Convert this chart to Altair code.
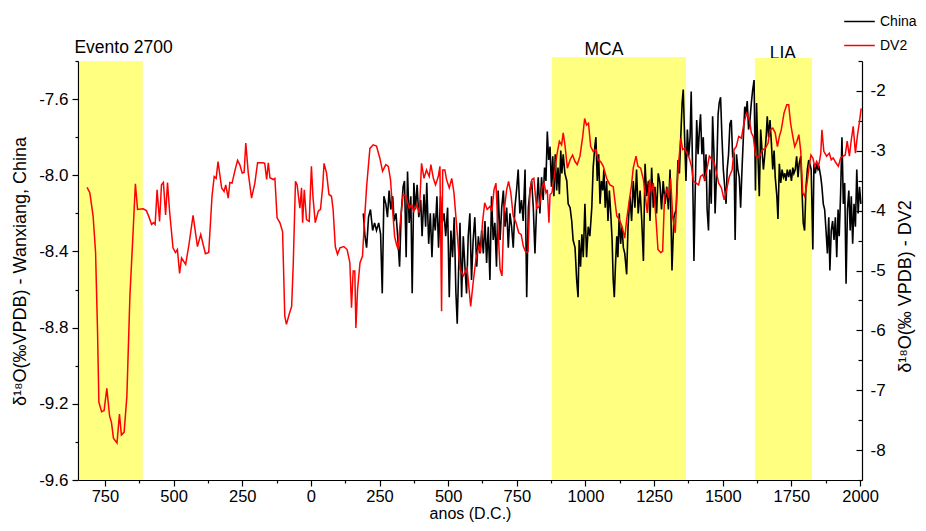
import altair as alt
import pandas as pd

# ---------------- data ----------------
red_year = [-815, -805, -793, -784, -777, -772, -762, -753, -743, -733, -726, -719, -706, -697, -690, -680,
            -670, -659, -647, -639, -631, -611, -599, -590, -580, -573, -567, -560, -551, -544, -537, -529,
            -522, -514, -502, -493, -486, -478, -471, -456, -444, -429, -413, -401, -384, -372, -360, -352,
            -345, -338, -325, -316, -310, -301, -295, -287, -277, -267, -259, -250, -243, -237, -228, -216,
            -204, -194, -174, -168, -161, -155, -149, -137, -131, -123, -113, -103, -95, -89, -79, -70,
            -64, -56, -50, -40, -34, -30, -24, -16, -6, 2, 8, 16, 27, 35, 43, 48,
            57, 66, 75, 81, 89, 97, 106, 120, 132, 142, 148, 154, 160, 164, 170, 179,
            188, 194, 203, 215, 227, 239, 251, 261, 273, 282, 290, 298, 305, 312, 318, 324,
            336, 346, 358, 367, 375, 385, 395, 403, 412, 421, 431, 437, 446, 454, 464, 470,
            476, 480, 488, 494, 504, 513, 521, 531, 543, 555, 569, 582, 591, 601, 611, 618,
            625, 633, 642, 652, 659, 667, 674, 681, 689, 696, 703, 713, 720, 728, 737, 747,
            757, 766, 774, 783, 791, 798, 805, 812, 822, 832, 842, 849, 856, 861, 867, 871,
            878, 885, 895, 905, 913, 919, 926, 934, 944, 953, 962, 970, 980, 990, 997, 1004,
            1011, 1019, 1028, 1038, 1046, 1055, 1065, 1077, 1089, 1101, 1114, 1123, 1133, 1143, 1150, 1160,
            1167, 1174, 1184, 1191, 1201, 1211, 1218, 1225, 1233, 1240, 1247, 1257, 1264, 1274, 1281, 1288,
            1296, 1303, 1310, 1318, 1327, 1337, 1347, 1354, 1361, 1369, 1378, 1386, 1393, 1403, 1412, 1419,
            1427, 1434, 1442, 1451, 1461, 1468, 1475, 1485, 1495, 1505, 1514, 1524, 1534, 1541, 1549, 1558,
            1568, 1577, 1587, 1597, 1604, 1611, 1619, 1626, 1636, 1646, 1655, 1665, 1672, 1682, 1691, 1699,
            1706, 1713, 1723, 1733, 1740, 1747, 1755, 1762, 1770, 1777, 1784, 1791, 1798, 1806, 1813, 1821,
            1828, 1835, 1842, 1849, 1857, 1861, 1868, 1878, 1888, 1895, 1902, 1912, 1921, 1929, 1939, 1946,
            1953, 1961, 1968, 1975, 1983, 1990, 1997, 2004]
red_val = [-3.61, -3.70, -4.09, -4.70, -5.98, -7.20, -7.36, -7.34, -6.97, -7.43, -7.54, -7.80, -7.88, -7.40, -7.75, -7.70,
           -7.10, -5.43, -4.32, -3.55, -3.98, -3.97, -4.00, -4.10, -4.23, -4.20, -4.23, -3.65, -4.18, -3.57, -3.53, -4.07,
           -3.53, -4.04, -4.62, -4.70, -4.65, -5.05, -4.79, -4.90, -4.57, -4.08, -4.60, -4.40, -4.72, -4.70, -3.76, -3.43,
           -3.46, -3.18, -3.62, -3.68, -3.57, -3.79, -3.53, -3.54, -3.34, -3.16, -3.23, -3.37, -3.36, -2.87, -3.37, -3.79,
           -3.54, -3.20, -3.20, -3.21, -3.48, -3.20, -3.45, -3.48, -3.46, -4.12, -4.20, -4.35, -5.76, -5.90, -5.73, -5.60,
           -4.87, -3.51, -3.57, -3.96, -3.62, -4.20, -3.65, -4.15, -4.18, -3.26, -3.79, -4.20, -4.01, -3.98, -3.60, -3.21,
           -3.37, -3.73, -3.76, -3.98, -4.60, -4.73, -4.62, -4.60, -4.65, -4.87, -5.62, -5.01, -5.01, -5.96, -5.32, -4.87,
           -4.76, -4.26, -3.60, -2.96, -2.90, -2.92, -3.12, -3.34, -3.23, -3.26, -3.48, -4.01, -4.43, -4.57, -4.65, -4.26,
           -3.73, -3.76, -3.96, -3.90, -4.01, -3.90, -4.04, -3.21, -3.46, -3.32, -3.43, -3.23, -3.46, -3.57, -3.43, -3.26,
           -5.68, -3.32, -3.32, -3.48, -3.62, -3.46, -3.70, -4.26, -4.98, -5.09, -4.96, -5.60, -5.20, -4.82, -4.60, -4.70,
           -4.20, -3.87, -3.98, -3.93, -4.01, -3.65, -3.54, -4.26, -4.98, -5.09, -4.04, -3.65, -3.51, -3.70, -4.09, -4.20,
           -4.37, -4.40, -4.60, -4.70, -4.68, -3.65, -3.48, -3.46, -3.96, -3.93, -3.60, -3.54, -3.70, -3.65, -4.20, -3.73,
           -3.70, -3.48, -3.09, -2.84, -2.90, -2.70, -2.93, -3.29, -3.15, -3.07, -3.18, -3.23, -3.09, -2.76, -2.46, -2.57,
           -2.54, -2.93, -3.01, -2.98, -3.15, -3.18, -3.26, -3.46, -3.57, -3.60, -4.09, -4.15, -4.26, -4.46, -4.15, -3.82,
           -3.60, -3.29, -3.09, -3.26, -3.29, -3.48, -3.76, -4.04, -3.48, -3.70, -3.54, -4.15, -4.65, -4.70, -4.68, -3.76,
           -3.65, -3.79, -3.46, -4.12, -4.37, -3.32, -2.79, -2.98, -2.96, -3.04, -3.12, -3.26, -3.51, -3.54, -3.57, -3.43,
           -3.40, -3.48, -3.32, -3.09, -3.15, -3.18, -3.32, -3.54, -3.62, -3.82, -3.65, -3.43, -3.32, -2.98, -2.93, -2.76,
           -2.79, -2.54, -2.37, -2.48, -2.70, -2.76, -3.07, -3.12, -3.07, -2.98, -2.96, -2.87, -2.65, -2.62, -2.70, -2.93,
           -2.76, -2.65, -2.37, -2.23, -2.23, -2.54, -2.76, -2.93, -2.84, -2.73, -3.01, -3.70, -3.76, -3.57, -3.32, -3.07,
           -3.12, -3.26, -3.18, -3.26, -3.04, -2.65, -3.01, -3.09, -3.04, -3.15, -3.12, -3.20, -3.26, -3.12, -3.09, -3.07,
           -2.84, -3.09, -2.82, -2.59, -3.04, -2.76, -2.54, -2.29]

black_year = [191, 197, 203, 210, 217, 225, 232, 239, 247, 254, 260, 266, 273, 279, 285, 291,
              298, 303, 310, 317, 323, 329, 336, 341, 347, 352, 358, 364, 369, 375, 381, 387,
              393, 400, 405, 412, 418, 422, 429, 435, 441, 447, 453, 459, 465, 472, 478, 485,
              491, 498, 504, 510, 516, 522, 528, 533, 538, 543, 549, 555, 561, 567, 573, 579,
              585, 591, 597, 604, 610, 616, 622, 628, 634, 640, 646, 652, 658, 664, 670, 676,
              682, 689, 695, 701, 707, 713, 719, 725, 731, 737, 743, 749, 755, 761, 767, 773,
              780, 786, 792, 798, 804, 810, 816, 822, 828, 834, 840, 846, 851, 856, 861, 866,
              871, 876, 881, 885, 890, 895, 900, 905, 910, 914, 919, 925, 932, 937, 944, 950,
              955, 962, 968, 973, 977, 982, 987, 992, 998, 1004, 1010, 1016, 1023, 1028, 1034, 1038,
              1043, 1048, 1053, 1058, 1063, 1067, 1072, 1077, 1082, 1087, 1092, 1097, 1101, 1105, 1109, 1114,
              1118, 1123, 1128, 1133, 1138, 1143, 1150, 1155, 1162, 1168, 1174, 1180, 1186, 1192, 1199, 1205,
              1211, 1217, 1223, 1229, 1235, 1241, 1247, 1253, 1259, 1265, 1271, 1277, 1283, 1290, 1296, 1302,
              1308, 1315, 1322, 1330, 1337, 1342, 1347, 1352, 1356, 1361, 1366, 1371, 1376, 1381, 1385, 1390,
              1395, 1400, 1405, 1410, 1415, 1419, 1424, 1429, 1434, 1439, 1443, 1448, 1453, 1458, 1463, 1468,
              1472, 1478, 1483, 1487, 1492, 1497, 1502, 1507, 1512, 1516, 1521, 1526, 1531, 1536, 1541, 1545,
              1550, 1555, 1560, 1565, 1570, 1575, 1580, 1584, 1589, 1594, 1599, 1604, 1609, 1614, 1619, 1623,
              1628, 1633, 1638, 1643, 1648, 1653, 1658, 1662, 1667, 1672, 1677, 1682, 1687, 1691, 1697, 1701,
              1706, 1711, 1716, 1721, 1726, 1730, 1735, 1740, 1745, 1750, 1755, 1759, 1764, 1769, 1774, 1778,
              1784, 1788, 1793, 1798, 1803, 1808, 1813, 1817, 1822, 1828, 1832, 1837, 1842, 1847, 1851, 1857,
              1861, 1866, 1871, 1876, 1881, 1886, 1890, 1895, 1900, 1905, 1910, 1915, 1920, 1924, 1929, 1934,
              1939, 1944, 1949, 1954, 1959, 1964, 1968, 1973, 1978, 1983, 1988, 1993, 1998, 2003]
black_val = [-8.20, -8.32, -8.38, -8.22, -8.18, -8.29, -8.25, -8.29, -8.25, -8.31, -8.62, -8.11, -8.15, -8.22, -8.08, -8.18,
             -8.11, -8.24, -8.20, -8.34, -8.48, -8.20, -8.06, -8.03, -8.43, -7.98, -8.25, -8.11, -8.62, -8.04, -8.18, -8.05,
             -8.22, -8.13, -8.32, -8.10, -8.27, -8.04, -8.36, -8.20, -8.43, -8.20, -8.29, -8.11, -8.38, -8.11, -8.25, -8.20,
             -8.32, -8.17, -8.64, -8.29, -8.43, -8.22, -8.61, -8.78, -8.50, -8.25, -8.64, -8.32, -8.48, -8.62, -8.32, -8.20,
             -8.55, -8.34, -8.22, -8.48, -8.32, -8.41, -8.29, -8.41, -8.24, -8.46, -8.27, -8.55, -8.11, -8.34, -8.25, -8.48,
             -8.08, -8.34, -8.17, -8.08, -8.27, -8.17, -8.38, -8.20, -8.27, -8.38, -8.17, -8.08, -7.97, -8.20, -8.13, -8.24,
             -7.97, -8.64, -8.17, -8.08, -8.03, -8.17, -8.41, -8.17, -8.01, -8.20, -8.01, -8.13, -7.96, -8.03, -7.77, -7.92,
             -7.85, -8.06, -7.90, -8.11, -7.89, -8.08, -7.96, -8.10, -7.87, -7.99, -7.89, -7.99, -8.03, -8.15, -8.17, -8.24,
             -8.34, -8.38, -8.55, -8.64, -8.34, -8.48, -8.31, -8.43, -8.15, -8.43, -8.27, -8.32, -8.17, -7.96, -7.85, -7.80,
             -8.03, -7.89, -8.15, -8.03, -8.08, -7.97, -8.17, -8.03, -8.24, -8.08, -8.20, -8.34, -8.55, -8.64, -8.48, -8.32,
             -8.43, -8.20, -8.36, -8.27, -8.38, -8.41, -8.52, -8.27, -8.11, -8.24, -8.03, -8.17, -7.97, -8.20, -8.08, -8.24,
             -8.45, -7.94, -8.11, -8.03, -8.24, -7.96, -8.17, -8.06, -8.20, -7.99, -8.04, -8.18, -8.03, -8.15, -8.06, -8.18,
             -7.97, -8.50, -8.22, -8.18, -7.92, -7.99, -7.80, -7.62, -7.55, -7.80, -8.03, -7.76, -7.90, -7.80, -7.56, -7.97,
             -8.45, -8.06, -7.71, -7.89, -7.76, -7.68, -7.89, -7.80, -8.03, -7.89, -8.18, -8.29, -7.97, -8.15, -7.69, -7.89,
             -8.20, -7.97, -7.68, -7.62, -7.59, -7.80, -7.97, -8.06, -8.15, -7.97, -7.89, -7.73, -7.71, -7.90, -7.89, -8.34,
             -7.89, -7.97, -8.01, -8.17, -7.97, -7.80, -7.64, -7.68, -7.61, -7.76, -7.71, -7.62, -7.55, -7.50, -8.08, -7.62,
             -7.89, -8.11, -7.76, -7.87, -7.97, -7.89, -7.80, -7.69, -7.80, -7.71, -7.83, -7.97, -7.87, -8.01, -8.11, -8.23,
             -7.94, -8.04, -7.97, -8.01, -7.99, -8.03, -7.97, -8.01, -7.97, -8.03, -7.96, -7.99, -7.97, -7.90, -8.01, -7.94,
             -7.90, -8.06, -8.25, -8.29, -8.06, -7.97, -7.92, -7.94, -7.97, -8.39, -7.94, -7.99, -7.94, -7.97, -7.96, -8.01,
             -8.06, -8.15, -8.18, -8.29, -8.41, -8.22, -8.50, -8.29, -8.24, -8.34, -8.22, -8.43, -8.18, -8.32, -8.10, -7.80,
             -8.15, -8.04, -8.57, -8.18, -8.08, -8.29, -8.11, -8.36, -8.15, -8.27, -7.97, -8.20, -8.06, -8.15]

band_start = [-841, 877, 1617]
band_end = [-612, 1366, 1825]
band_label = ["Evento 2700", "MCA", "LIA"]
band_label_x = [-682, 1067, 1719]

series_names = ["China", "DV2"]
series_colors = ["black", "red"]

x_ticks = list(range(-750, 2001, 125))
left_ticks = [round(-9.6 + 0.2 * i, 1) for i in range(12)]
right_ticks = [-8.5 + 0.5 * i for i in range(15)]

# ---------------- chart ----------------
W, H = 784, 419
FONT = "Liberation Sans"

xscale = alt.Scale(domain=[-848, 2007], nice=False, zero=False)
xaxis = alt.Axis(
    title="anos (D.C.)", values=x_ticks, labelFlush=False,
    labelExpr="datum.value % 250 == 0 ? format(abs(datum.value), 'd') : ''",
    tickSize={"expr": "datum.value % 250 == 0 ? 6 : 3"},
    labelPadding=2, labelFontSize=16.5,
    titleX=392, titleY=38, titleFontSize=16, titleBaseline="alphabetic", titleAlign="center",
)


def X(field):
    return alt.X(field, type="quantitative", scale=xscale, axis=xaxis)


color = alt.Color(
    "series:N",
    scale=alt.Scale(domain=series_names, range=series_colors),
    legend=alt.Legend(
        title=None, orient="none", legendX=765, legendY=-56, symbolType="stroke",
        symbolSize=936, symbolStrokeWidth=1.5, labelFontSize=14, rowPadding=0,
        padding=0, labelOffset=4, labelFont=FONT,
    ),
)

black_df = pd.DataFrame({"year": black_year, "val": black_val, "series": "China"})
red_df = pd.DataFrame({"year": red_year, "val": red_val, "series": "DV2"})
band_df = pd.DataFrame({"start": band_start, "end": band_end, "label": band_label, "lx": band_label_x})

layers = []
label_y = [-8, -6, -2]
band_top = [0, -4, -3]
for i in range(len(band_label)):
    sub = band_df.iloc[[i]]
    layers.append(
        alt.Chart(sub).mark_text(fontSize=17.5, font=FONT, baseline="alphabetic", align="center", color="black")
        .encode(x=X("lx"), y=alt.value(label_y[i]), text="label:N")
    )
for i in range(len(band_label)):
    sub = band_df.iloc[[i]]
    layers.append(
        alt.Chart(sub).mark_rect(color="#FFFF80", opacity=1)
        .encode(x=X("start"), x2="end", y=alt.value(band_top[i]), y2=alt.value(H))
    )

black = alt.Chart(black_df).mark_line(strokeWidth=1.6, clip=True).encode(
    x=X("year"),
    y=alt.Y(
        "val:Q",
        scale=alt.Scale(domain=[-9.6, -7.4], nice=False, zero=False),
        axis=alt.Axis(
            orient="left", values=left_ticks,
            title="δ¹⁸O(‰VPDB) - Wanxiang, China",
            labelExpr="abs(round(datum.value * 10)) % 4 == 0 ? '-' + format(abs(datum.value), '.1f') : ''",
            tickSize={"expr": "abs(round(datum.value * 10)) % 4 == 0 ? 6 : 3"},
            labelPadding=4, titleX=-53, titleY=210, titleAngle=270,
            titleBaseline="alphabetic", titleAlign="center",
        ),
    ),
    color=color,
)

red = alt.Chart(red_df).mark_line(strokeWidth=1.5, clip=True).encode(
    x=X("year"),
    y=alt.Y(
        "val:Q",
        scale=alt.Scale(domain=[-8.5, -1.5], nice=False, zero=False),
        axis=alt.Axis(
            orient="right", values=right_ticks,
            title="δ¹⁸O(‰ VPDB) - DV2",
            labelExpr="datum.value % 1 == 0 ? '-' + format(abs(datum.value), 'd') : ''",
            tickSize={"expr": "datum.value % 1 == 0 ? -6 : -4"},
            labelPadding=14, titleX=48, titleY=225, titleAngle=270,
            titleBaseline="alphabetic", titleAlign="center",
        ),
    ),
    color=color,
)

chart = (
    alt.layer(*layers, black, red)
    .resolve_scale(y="independent")
    .properties(
        width=W, height=H,
        autosize=alt.AutoSizeParams(type="none"),
        padding={"left": 70, "top": 53, "right": 56, "bottom": 42},
    )
    .configure(font=FONT)
    .configure_view(strokeWidth=0)
    .configure_axis(
        grid=False, domainColor="black", tickColor="black", labelColor="black",
        titleColor="black", domainWidth=1.2, tickWidth=1.2, labelFontSize=17,
        titleFontSize=18, titleFontWeight="normal", labelFont=FONT, titleFont=FONT,
    )
    .configure_legend(labelColor="black")
)

chart.save("out.html", embed_options={"renderer": "svg", "actions": False})
